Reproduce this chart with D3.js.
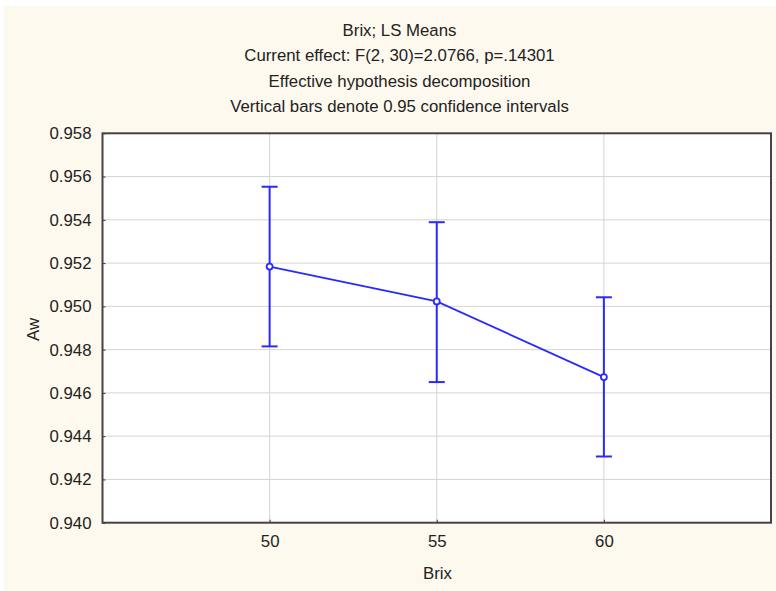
<!DOCTYPE html>
<html><head><meta charset="utf-8">
<script src="https://cdn.jsdelivr.net/npm/d3@7"></script>
<style>body{margin:0;background:#fff}svg{display:block}</style>
</head><body>
<svg id="c" width="776" height="591"></svg>
<script>
const categories = [50, 55, 60];
const means = [0.95184, 0.95023, 0.94673];
const upper = [0.95553, 0.95389, 0.95042];
const lower = [0.94815, 0.94650, 0.94306];
const yTicks = [0.940, 0.942, 0.944, 0.946, 0.948, 0.950, 0.952, 0.954, 0.956, 0.958];
const titles = ["Brix; LS Means", "Current effect: F(2, 30)=2.0766, p=.14301", "Effective hypothesis decomposition", "Vertical bars denote 0.95 confidence intervals"];

const svg = d3.select("#c");
const font = "'Liberation Sans', Arial, sans-serif";
const fs = 16.8;
svg.append("rect").attr("x",4).attr("y",6).attr("width",772).attr("height",585).attr("fill","#fef9ee");

const L=102.5, R=771, T=133.3, B=522.7;
const x = d3.scaleLinear().domain([45,65]).range([L,R]);
const y = d3.scaleLinear().domain([0.940,0.958]).range([B,T]);

svg.append("rect").attr("x",L).attr("y",T).attr("width",R-L).attr("height",B-T).attr("fill","#fff");

// grid
svg.append("g").selectAll("line").data(yTicks.slice(1,-1)).join("line")
  .attr("x1",L).attr("x2",R).attr("y1",d=>y(d)).attr("y2",d=>y(d))
  .attr("stroke","#d4d4d4").attr("stroke-width",1);
svg.append("g").selectAll("line").data(categories).join("line")
  .attr("y1",T).attr("y2",B).attr("x1",d=>x(d)).attr("x2",d=>x(d))
  .attr("stroke","#d4d4d4").attr("stroke-width",1);

// axes
const ya = d3.axisLeft(y).tickValues(yTicks).tickFormat(d3.format(".3f")).tickSize(-3).tickPadding(11);
const gy = svg.append("g").attr("transform",`translate(${L},0)`).call(ya);
gy.select(".domain").remove();
gy.selectAll("line").attr("stroke","#333");
gy.selectAll("text").attr("font-family",font).attr("font-size",fs).attr("fill","#222");

const xa = d3.axisBottom(x).tickValues(categories).tickFormat(d3.format("d")).tickSize(-3).tickPadding(12);
const gx = svg.append("g").attr("transform",`translate(0,${B})`).call(xa);
gx.select(".domain").remove();
gx.selectAll("line").attr("stroke","#333");
gx.selectAll("text").attr("font-family",font).attr("font-size",fs).attr("fill","#222");

// frame
svg.append("rect").attr("x",L).attr("y",T).attr("width",R-L).attr("height",B-T)
  .attr("fill","none").attr("stroke","#444").attr("stroke-width",2);

// titles
svg.append("g").selectAll("text").data(titles).join("text")
  .attr("x",399.5).attr("y",(d,i)=>36+i*25.3).attr("text-anchor","middle")
  .attr("font-family",font).attr("font-size",fs).attr("fill","#222").text(d=>d);

// axis labels
svg.append("text").attr("x",437.5).attr("y",579).attr("text-anchor","middle")
  .attr("font-family",font).attr("font-size",fs).attr("fill","#222").text("Brix");
svg.append("text").attr("transform","translate(38.5,329.5) rotate(-90)").attr("text-anchor","middle")
  .attr("font-family",font).attr("font-size",fs).attr("fill","#222").text("Aw");

const blue = "#2a2aff";
const data = categories.map((c,i)=>({c, m:means[i], u:upper[i], l:lower[i]}));
const g = svg.append("g");
g.selectAll(".eb").data(data).join("line").attr("x1",d=>x(d.c)).attr("x2",d=>x(d.c))
  .attr("y1",d=>y(d.u)).attr("y2",d=>y(d.l)).attr("stroke",blue).attr("stroke-width",2);
g.selectAll(".cu").data(data).join("line").attr("x1",d=>x(d.c)-8).attr("x2",d=>x(d.c)+8)
  .attr("y1",d=>y(d.u)).attr("y2",d=>y(d.u)).attr("stroke",blue).attr("stroke-width",2);
g.selectAll(".cl").data(data).join("line").attr("x1",d=>x(d.c)-8).attr("x2",d=>x(d.c)+8)
  .attr("y1",d=>y(d.l)).attr("y2",d=>y(d.l)).attr("stroke",blue).attr("stroke-width",2);
g.append("path").datum(data).attr("d",d3.line().x(d=>x(d.c)).y(d=>y(d.m)))
  .attr("fill","none").attr("stroke",blue).attr("stroke-width",1.8);
g.selectAll("circle").data(data).join("circle").attr("cx",d=>x(d.c)).attr("cy",d=>y(d.m))
  .attr("r",3).attr("fill","#fff").attr("stroke",blue).attr("stroke-width",1.8);
</script>
</body></html>
